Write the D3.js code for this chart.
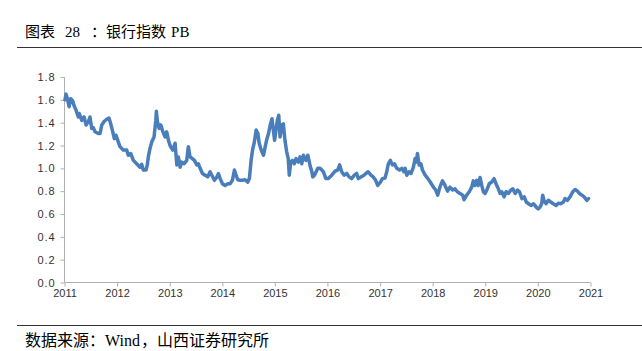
<!DOCTYPE html>
<html>
<head>
<meta charset="utf-8">
<script src="https://cdn.jsdelivr.net/npm/d3@7"></script>
<style>
  html, body { margin: 0; padding: 0; background: #ffffff; }
  svg { display: block; }
</style>
</head>
<body>
<svg id="chart" width="642" height="351"></svg>
<script>
const titleParts = ["图表", "28", "：", "银行指数", "PB"];
const sourceParts = ["数据来源：", "Wind", "，", "山西证券研究所"];

const xTickLabels = ["2011","2012","2013","2014","2015","2016","2017","2018","2019","2020","2021"];
const yTickValues = [0, 0.2, 0.4, 0.6, 0.8, 1.0, 1.2, 1.4, 1.6, 1.8];
const yTickLabels = ["0.0","0.2","0.4","0.6","0.8","1.0","1.2","1.4","1.6","1.8"];

const dates = [
  "2011-01-04","2011-01-12","2011-01-21","2011-02-02","2011-02-13","2011-02-27","2011-03-08","2011-03-22","2011-04-07","2011-04-14",
  "2011-05-01","2011-05-17","2011-05-31","2011-06-16","2011-06-27","2011-07-09","2011-07-20","2011-08-01","2011-08-24","2011-09-05",
  "2011-09-17","2011-10-03","2011-10-21","2011-11-06","2011-11-18","2011-12-02","2011-12-13","2011-12-25",
  "2012-01-10","2012-01-21","2012-02-13","2012-03-08","2012-03-19","2012-04-05","2012-04-23","2012-05-16","2012-06-08","2012-06-20",
  "2012-07-01","2012-07-20","2012-07-29","2012-08-05","2012-08-17","2012-08-29","2012-09-14","2012-09-26","2012-09-30","2012-10-07",
  "2012-10-19","2012-10-31","2012-11-14","2012-11-30","2012-12-11","2012-12-23",
  "2013-01-03","2013-01-22","2013-02-07","2013-02-19","2013-03-02","2013-03-14","2013-03-26","2013-04-11","2013-04-29","2013-05-10",
  "2013-05-22","2013-06-07","2013-06-21","2013-07-08","2013-07-19","2013-07-31","2013-08-16","2013-09-04","2013-09-22","2013-10-08",
  "2013-10-20","2013-11-07","2013-11-24","2013-12-05","2013-12-17",
  "2014-01-02","2014-01-20","2014-02-08","2014-02-24","2014-03-12","2014-03-26","2014-04-07","2014-04-18","2014-05-04","2014-05-20",
  "2014-06-08","2014-06-27","2014-07-08","2014-07-20","2014-08-01","2014-08-10","2014-08-17","2014-08-24","2014-09-05","2014-09-14",
  "2014-09-28","2014-10-14","2014-10-26","2014-11-07","2014-11-18","2014-11-30","2014-12-12","2014-12-19","2014-12-30",
  "2015-01-07","2015-01-18","2015-01-28","2015-02-06","2015-02-18","2015-03-01","2015-03-12","2015-03-24","2015-04-04","2015-04-11",
  "2015-04-21","2015-05-02","2015-05-16","2015-05-28","2015-06-13","2015-06-25","2015-07-07","2015-07-18","2015-08-04","2015-08-18",
  "2015-09-03","2015-09-15","2015-09-21","2015-10-03","2015-10-26","2015-11-11","2015-12-04","2015-12-21",
  "2016-01-07","2016-01-31","2016-02-23","2016-03-12","2016-03-26","2016-04-09","2016-04-27","2016-05-14","2016-05-30","2016-06-17",
  "2016-07-05","2016-07-22","2016-08-02","2016-08-21","2016-09-06","2016-09-24","2016-10-10","2016-10-29","2016-11-14","2016-12-01",
  "2016-12-15",
  "2017-01-03","2017-01-17","2017-02-04","2017-02-16","2017-02-27","2017-03-13","2017-03-27","2017-04-10","2017-04-27","2017-05-15",
  "2017-06-01","2017-06-14","2017-06-24","2017-07-05","2017-07-21","2017-08-04","2017-08-20","2017-09-01","2017-09-10","2017-09-17",
  "2017-09-29","2017-10-11","2017-10-22","2017-11-10","2017-11-29","2017-12-15",
  "2018-01-06","2018-01-22","2018-02-05","2018-02-21","2018-03-10","2018-03-28","2018-04-14","2018-05-01","2018-05-20","2018-06-05",
  "2018-06-21","2018-07-10","2018-07-29","2018-08-07","2018-08-25","2018-09-12","2018-09-29","2018-10-10","2018-10-22","2018-11-03",
  "2018-11-14","2018-11-26","2018-12-08","2018-12-19","2018-12-31",
  "2019-01-15","2019-01-29","2019-02-15","2019-03-03","2019-03-17","2019-04-02","2019-04-14","2019-04-26","2019-05-12","2019-05-26",
  "2019-06-11","2019-06-28","2019-07-12","2019-07-28","2019-08-13","2019-08-27","2019-09-13","2019-09-29","2019-10-13","2019-10-29",
  "2019-11-14","2019-12-03","2019-12-21",
  "2020-01-04","2020-01-16","2020-01-28","2020-02-04","2020-02-13","2020-02-27","2020-03-14","2020-03-31","2020-04-18","2020-05-07",
  "2020-05-23","2020-06-08","2020-06-27","2020-07-08","2020-07-24","2020-08-12","2020-08-31","2020-09-16","2020-10-02","2020-10-16",
  "2020-11-02","2020-11-18","2020-12-07","2020-12-18"
];

const pb = [
  1.60,1.65,1.61,1.54,1.61,1.59,1.55,1.51,1.45,1.48,
  1.42,1.45,1.38,1.41,1.45,1.35,1.355,1.32,1.305,1.305,
  1.38,1.41,1.43,1.44,1.39,1.32,1.26,1.29,
  1.23,1.19,1.16,1.16,1.115,1.13,1.07,1.04,1.01,1.035,
  0.985,0.985,1.03,1.10,1.175,1.23,1.275,1.42,1.50,1.41,
  1.35,1.38,1.32,1.275,1.32,1.245,
  1.20,1.16,1.22,1.03,1.10,1.01,1.055,1.04,1.07,1.19,
  1.10,1.085,1.07,1.03,1.04,1.00,0.955,0.94,0.925,0.97,
  0.94,0.895,0.925,0.955,0.91,
  0.865,0.85,0.865,0.865,0.895,0.985,0.94,0.90,0.895,0.895,
  0.90,0.88,0.91,1.07,1.175,1.22,1.275,1.335,1.305,1.22,
  1.16,1.115,1.19,1.26,1.305,1.38,1.435,1.36,1.245,
  1.32,1.42,1.465,1.275,1.38,1.39,1.245,1.145,1.085,0.94,
  1.055,1.07,1.04,1.085,1.055,1.10,1.04,1.115,1.07,1.115,
  1.02,0.97,0.925,0.94,1.00,1.00,0.97,0.91,
  0.91,0.94,0.975,0.985,1.03,0.97,0.94,0.955,0.925,0.91,
  0.94,0.955,0.91,0.925,0.935,0.955,0.97,0.94,0.925,0.895,
  0.85,
  0.88,0.91,0.915,0.97,1.04,1.07,1.03,1.04,1.00,0.985,
  1.00,0.97,1.00,0.94,0.97,0.955,1.01,1.085,1.055,1.13,
  1.03,1.04,0.985,0.94,0.91,0.88,
  0.835,0.81,0.765,0.84,0.89,0.85,0.80,0.835,0.81,0.82,
  0.795,0.78,0.765,0.725,0.765,0.795,0.835,0.89,0.85,0.895,
  0.85,0.92,0.85,0.795,0.78,
  0.82,0.865,0.88,0.91,0.865,0.82,0.78,0.795,0.75,0.795,
  0.78,0.81,0.82,0.78,0.81,0.795,0.735,0.75,0.705,0.69,
  0.675,0.69,0.66,
  0.645,0.66,0.69,0.765,0.72,0.69,0.72,0.705,0.69,0.675,
  0.695,0.69,0.705,0.735,0.72,0.75,0.795,0.815,0.80,0.78,
  0.765,0.75,0.72,0.735
];

const parse = d3.timeParse("%Y-%m-%d");
const data = dates.map((d, i) => ({ date: parse(d), value: pb[i] }));

const svg = d3.select("#chart");
const W = 642, H = 351;
svg.append("rect").attr("width", W).attr("height", H).attr("fill", "#ffffff");

const cjkFont = "'Liberation Serif', 'Noto Sans CJK SC', serif";
const axisFont = "'Liberation Sans', Arial, sans-serif";

// Title (segments spaced as in the original layout)
const titleGaps = [0, 10, 11, 0, 5];
const title = svg.append("text")
  .attr("x", 25).attr("y", 37)
  .attr("font-family", cjkFont)
  .attr("font-size", 15)
  .attr("fill", "#000000");
title.selectAll("tspan").data(titleParts).join("tspan")
  .attr("dx", (d, i) => titleGaps[i])
  .text(d => d);

svg.append("line")
  .attr("x1", 17).attr("x2", W).attr("y1", 47.5).attr("y2", 47.5)
  .attr("stroke", "#333333").attr("stroke-width", 1);

// Footer
svg.append("line")
  .attr("x1", 17).attr("x2", W).attr("y1", 325.5).attr("y2", 325.5)
  .attr("stroke", "#333333").attr("stroke-width", 1);

const sourceGaps = [0, 0, 1, 0];
const source = svg.append("text")
  .attr("x", 25).attr("y", 346)
  .attr("font-family", cjkFont)
  .attr("font-size", 16)
  .attr("fill", "#000000");
source.selectAll("tspan").data(sourceParts).join("tspan")
  .attr("dx", (d, i) => sourceGaps[i])
  .text(d => d);

// Scales
const x = d3.scaleTime()
  .domain([parse(xTickLabels[0] + "-01-01"), parse(xTickLabels[xTickLabels.length - 1] + "-01-01")])
  .range([64.5, 590.5]);
const y = d3.scaleLinear()
  .domain([yTickValues[0], yTickValues[yTickValues.length - 1]])
  .range([282.5, 77]);

const axisColor = "#b0b0b0";
const labelColor = "#333333";

// Y axis
const yAxis = svg.append("g")
  .attr("transform", "translate(64.5,0)")
  .call(d3.axisLeft(y)
    .tickValues(yTickValues)
    .tickSize(4)
    .tickPadding(5)
    .tickFormat((d, i) => yTickLabels[i]));
yAxis.select(".domain").attr("stroke", axisColor).attr("d", `M0,${y.range()[0]}V${y.range()[1]}`);
yAxis.selectAll(".tick line").attr("stroke", axisColor);
yAxis.selectAll(".tick text")
  .attr("font-family", axisFont).attr("font-size", 11)
  .attr("letter-spacing", "0.9px")
  .attr("fill", labelColor);

// X axis
const xTickDates = xTickLabels.map(s => parse(s + "-01-01"));
const xAxis = svg.append("g")
  .attr("transform", "translate(0,282.5)")
  .call(d3.axisBottom(x)
    .tickValues(xTickDates)
    .tickSize(4)
    .tickPadding(3)
    .tickFormat((d, i) => xTickLabels[i]));
xAxis.select(".domain").attr("stroke", axisColor).attr("d", `M${x.range()[0]},0H${x.range()[1]}`);
xAxis.selectAll(".tick line").attr("stroke", axisColor);
xAxis.selectAll(".tick text")
  .attr("font-family", axisFont).attr("font-size", 11)
  .attr("fill", labelColor);

// Line
const line = d3.line()
  .x(d => x(d.date))
  .y(d => y(d.value));

svg.append("path")
  .datum(data)
  .attr("fill", "none")
  .attr("stroke", "#4a7ebb")
  .attr("stroke-width", 3.5)
  .attr("stroke-linejoin", "round")
  .attr("stroke-linecap", "round")
  .attr("d", line);
</script>
</body>
</html>
